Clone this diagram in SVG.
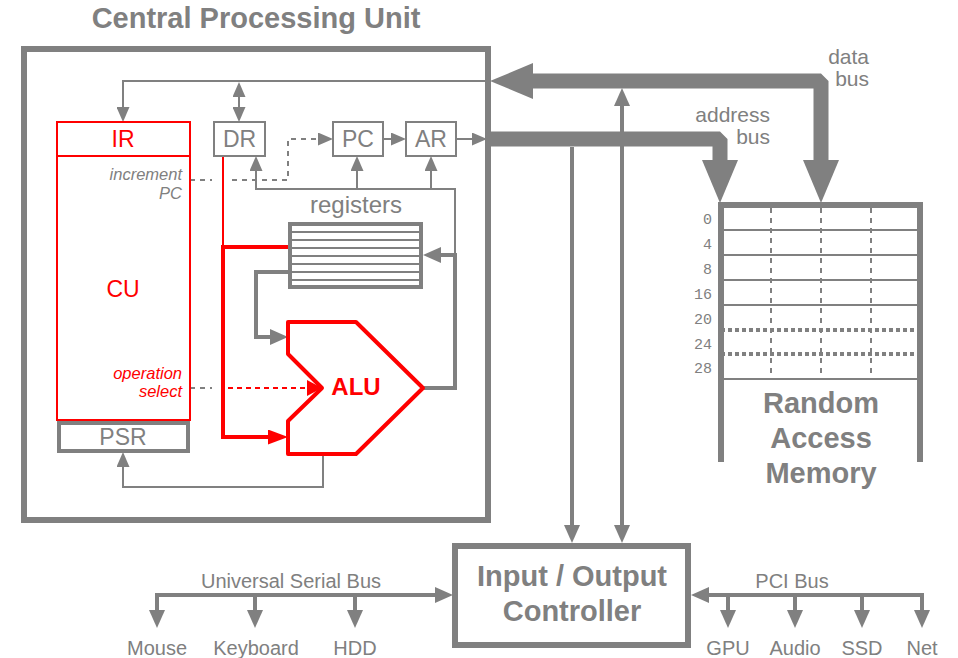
<svg xmlns="http://www.w3.org/2000/svg" width="958" height="658" viewBox="0 0 958 658">
  <style>
    text { font-family: "Liberation Sans", Arial, sans-serif; }
    .g { fill: #808080; }
    .r { fill: #ff0000; }
    .b { font-weight: bold; }
    .big { font-weight: bold; font-size: 29px; fill: #808080; text-anchor: middle; }
    .it { font-style: italic; font-size: 16.5px; }
    .mid { text-anchor: middle; }
    .end { text-anchor: end; }
    .box { fill: #ffffff; stroke: #808080; stroke-width: 2; }
    .rbox { fill: #ffffff; stroke: #ff0000; stroke-width: 2; }
    .thin { fill: none; stroke: #808080; stroke-width: 2; }
    .thick { fill: none; stroke: #808080; stroke-width: 4; }
    .bus { fill: none; stroke: #808080; stroke-width: 15; stroke-linejoin: bevel; }
    .dash { stroke-dasharray: 5 5; }
    .mono { font-family: "Liberation Mono", "Courier New", monospace; font-size: 15px; fill: #808080; text-anchor: end; }
  </style>
  <defs>
    <marker id="aS" markerUnits="userSpaceOnUse" markerWidth="15" markerHeight="13" viewBox="0 0 15 13" refX="12" refY="6.5" orient="auto-start-reverse">
      <path d="M0,0L15,6.5L0,13z" fill="#808080"/>
    </marker>
    <marker id="aM" markerUnits="userSpaceOnUse" markerWidth="18" markerHeight="16" viewBox="0 0 18 16" refX="13" refY="8" orient="auto-start-reverse">
      <path d="M0,0L18,8L0,16z" fill="#808080"/>
    </marker>
    <marker id="aB" markerUnits="userSpaceOnUse" markerWidth="43" markerHeight="36" viewBox="0 0 43 36" refX="23" refY="18" orient="auto-start-reverse">
      <path d="M0,0L43,18L0,36z" fill="#808080"/>
    </marker>
    <marker id="rM" markerUnits="userSpaceOnUse" markerWidth="20" markerHeight="15" viewBox="0 0 20 15" refX="14" refY="7.5" orient="auto">
      <path d="M0,0L20,7.5L0,15z" fill="#ff0000"/>
    </marker>
    <marker id="rS" markerUnits="userSpaceOnUse" markerWidth="15" markerHeight="16" viewBox="0 0 15 16" refX="12" refY="8" orient="auto">
      <path d="M0,0L15,8L0,16z" fill="#ff0000"/>
    </marker>
  </defs>

  <!-- CPU enclosure -->
  <g id="cpu">
    <rect x="24" y="49" width="464" height="471" fill="#ffffff" stroke="#808080" stroke-width="6"/>
    <text x="256" y="28" class="big">Central Processing Unit</text>
  </g>

  <!-- connectors -->
  <g id="connectors">
    <!-- system buses -->
    <path class="bus" d="M510,81H821V183" marker-start="url(#aB)" marker-end="url(#aB)"/>
    <path class="bus" d="M491,139H720V183" marker-end="url(#aB)"/>
    <path class="thick" d="M572,147V538" marker-end="url(#aM)"/>
    <path class="thick" d="M622,93V538" marker-start="url(#aM)" marker-end="url(#aM)"/>

    <!-- internal data path -->
    <path class="thin" d="M488,81H123V119" marker-end="url(#aS)"/>
    <path class="thin" d="M239,85V119" marker-start="url(#aS)" marker-end="url(#aS)"/>
    <path class="thin dash" d="M190,180H212"/>
    <path class="thin dash" d="M232,180H288V139H330" marker-end="url(#aS)"/>
    <path class="thin" d="M383,139H403" marker-end="url(#aS)"/>
    <path class="thin" d="M456,139H484" marker-end="url(#aS)"/>
    <path class="thin" d="M455,255V189H256V159" marker-end="url(#aS)"/>
    <path class="thin" d="M357,189V159" marker-end="url(#aS)"/>
    <path class="thin" d="M431,189V159" marker-end="url(#aS)"/>
    <path class="thin" d="M323,454V487H123V455" marker-end="url(#aS)"/>
    <path class="thick" d="M423,388H455V255H428" marker-end="url(#aM)"/>
    <path class="thick" d="M288,272H256V337H283" marker-end="url(#aM)"/>

    <!-- control signals -->
    <path fill="none" stroke="#ff0000" stroke-width="2" d="M223,156V247"/>
    <path fill="none" stroke="#ff0000" stroke-width="4" d="M288,247H223V437H282" marker-end="url(#rM)"/>
    <path class="thin dash" d="M190,388H212"/>
    <path fill="none" stroke="#ff0000" stroke-width="2" stroke-dasharray="5 4" d="M228,388H319" marker-end="url(#rS)"/>

    <!-- peripheral buses -->
    <path class="thick" d="M157,623V595H448" marker-start="url(#aM)" marker-end="url(#aM)"/>
    <path class="thick" d="M255,595V623" marker-end="url(#aM)"/>
    <path class="thick" d="M355,595V623" marker-end="url(#aM)"/>
    <path class="thick" d="M922,623V595H696" marker-start="url(#aM)" marker-end="url(#aM)"/>
    <path class="thick" d="M728,595V623" marker-end="url(#aM)"/>
    <path class="thick" d="M795,595V623" marker-end="url(#aM)"/>
    <path class="thick" d="M862,595V623" marker-end="url(#aM)"/>
  </g>

  <!-- bus labels -->
  <g id="bus-labels" class="g" font-size="21">
    <text x="869" y="64" class="end">data</text>
    <text x="869" y="86" class="end">bus</text>
    <text x="770" y="122" class="end">address</text>
    <text x="770" y="144" class="end">bus</text>
    <text x="291" y="588" class="mid" font-size="20">Universal Serial Bus</text>
    <text x="792" y="588" class="mid" font-size="20">PCI Bus</text>
  </g>

  <g id="ir">
    <rect class="rbox" x="57" y="122" width="133" height="34"/>
    <text x="123" y="147" class="r mid" font-size="23">IR</text>
  </g>
  <g id="cu">
    <rect class="rbox" x="57" y="156" width="133" height="264"/>
    <text x="123" y="297" class="r mid" font-size="23">CU</text>
    <text x="182" y="180" class="g it end">increment</text>
    <text x="182" y="199" class="g it end">PC</text>
    <text x="182" y="379" class="r it end">operation</text>
    <text x="182" y="397" class="r it end">select</text>
  </g>
  <g id="psr">
    <rect x="59" y="423" width="129" height="28" fill="#ffffff" stroke="#808080" stroke-width="4"/>
    <text x="123" y="445" class="g mid" font-size="23">PSR</text>
  </g>
  <g id="dr">
    <rect class="box" x="214" y="122" width="51" height="34"/>
    <text x="239.5" y="147" class="g mid" font-size="23">DR</text>
  </g>
  <g id="pc">
    <rect class="box" x="333" y="122" width="50" height="34"/>
    <text x="358" y="147" class="g mid" font-size="23">PC</text>
  </g>
  <g id="ar">
    <rect class="box" x="406" y="122" width="50" height="34"/>
    <text x="431" y="147" class="g mid" font-size="23">AR</text>
  </g>
  <g id="registers">
    <text x="356" y="213" class="g mid" font-size="24">registers</text>
    <rect x="290" y="224" width="131" height="63" fill="#ffffff" stroke="#808080" stroke-width="4"/>
    <path class="thin" d="M292,232H419M292,240H419M292,248H419M292,256H419M292,264H419M292,272H419M292,280H419"/>
  </g>
  <g id="alu">
    <polygon points="288,322 356,322 423,388 356,454 288,454 288,421 322,388 288,354" fill="#ffffff" stroke="#ff0000" stroke-width="4" stroke-linejoin="round"/>
    <text x="356" y="395" class="r b mid" font-size="24">ALU</text>
  </g>

  <g id="ram">
    <path d="M721,462V205H920V462" fill="none" stroke="#808080" stroke-width="6"/>
    <path class="thin" d="M724,230H917M724,255H917M724,280H917M724,305H917M724,379H917"/>
    <path fill="none" stroke="#808080" stroke-width="4" stroke-dasharray="4 3" d="M721,330H923M721,354H923"/>
    <path class="thin" stroke-dasharray="5 5" d="M771,208V378M821,208V378M871,208V378"/>
    <text x="712" y="224" class="mono">0</text>
    <text x="712" y="249" class="mono">4</text>
    <text x="712" y="274" class="mono">8</text>
    <text x="712" y="299" class="mono">16</text>
    <text x="712" y="324" class="mono">20</text>
    <text x="712" y="349" class="mono">24</text>
    <text x="712" y="373" class="mono">28</text>
    <text x="821" y="413" class="big">Random</text>
    <text x="821" y="448" class="big">Access</text>
    <text x="821" y="483" class="big">Memory</text>
  </g>

  <g id="io">
    <rect x="455" y="546" width="233" height="99" fill="#ffffff" stroke="#808080" stroke-width="6"/>
    <text x="572" y="586" class="big">Input / Output</text>
    <text x="572" y="621" class="big">Controller</text>
  </g>

  <g id="devices" class="g mid" font-size="20">
    <text x="157" y="655">Mouse</text>
    <text x="256" y="655">Keyboard</text>
    <text x="355" y="655">HDD</text>
    <text x="728" y="655">GPU</text>
    <text x="795" y="655">Audio</text>
    <text x="862" y="655">SSD</text>
    <text x="922" y="655">Net</text>
  </g>
</svg>
